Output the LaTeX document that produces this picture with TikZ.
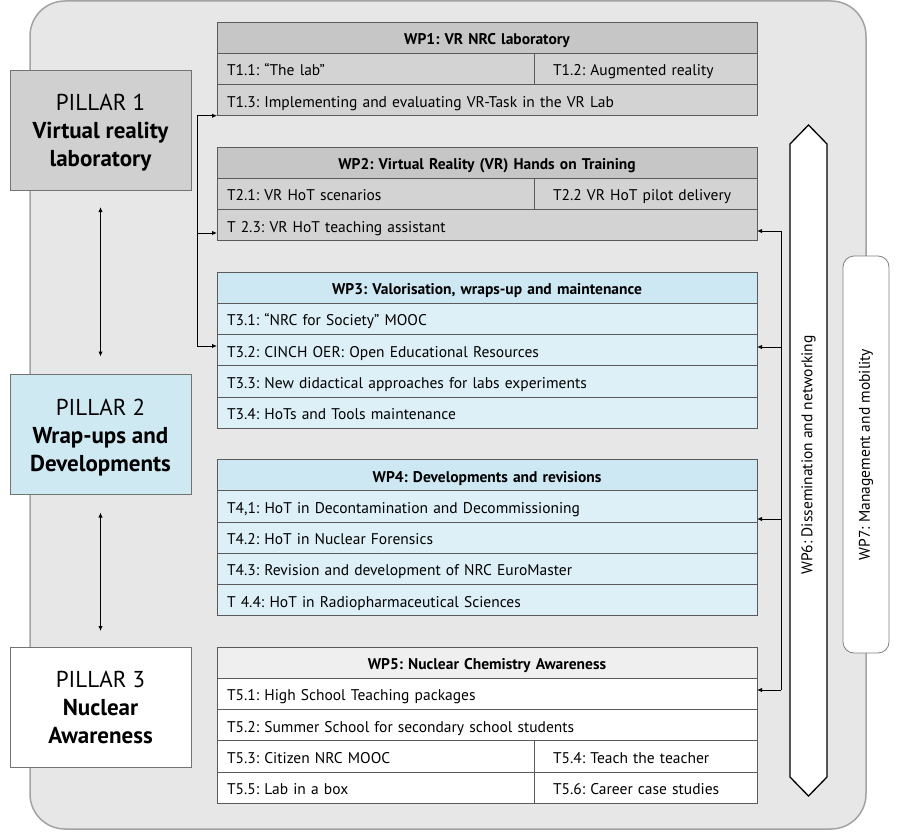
\documentclass[tikz,border=0pt]{standalone}
\usepackage{fontspec}
\setmainfont{PT Sans}
\usetikzlibrary{arrows.meta}
\frenchspacing
\definecolor{bgfill}{HTML}{E7E7E7}
\definecolor{bgdraw}{HTML}{A3A3A3}
\definecolor{bordercol}{HTML}{5A5A5A}
\definecolor{pillargray}{HTML}{D0D0D0}
\definecolor{pillarblue}{HTML}{CFE9F3}
\definecolor{headgray}{HTML}{C6C6C6}
\definecolor{rowgray}{HTML}{D3D3D3}
\definecolor{headblue}{HTML}{CDE8F2}
\definecolor{rowblue}{HTML}{DEF0F7}
\definecolor{headlight}{HTML}{EFEFEF}
\newcommand{\rowfont}{\fontsize{15.5pt}{18pt}\selectfont}
\newcommand{\headfont}{\fontsize{15.5pt}{18pt}\selectfont\bfseries}
\newcommand{\pillarfont}{\fontsize{23pt}{28pt}\selectfont}
\begin{document}
\begin{tikzpicture}[x=1pt,y=-1pt,
  every node/.style={outer sep=0pt},
  cell/.style={draw=bordercol, line width=0.8pt, anchor=north west, minimum height=31.25pt,
    inner xsep=10pt, inner ysep=0pt, align=left, font=\rowfont, text height=14pt, text depth=0pt},
  fullrow/.style={cell, text width=520pt},
  lhalf/.style={cell, text width=297pt},
  rhalf/.style={cell, inner xsep=19pt, text width=185pt},
  headrow/.style={cell, text width=520pt, align=center, font=\headfont},
  pillar/.style={draw=gray!90!black, line width=0.8pt, minimum width=181pt, minimum height=120pt,
    align=center, font=\pillarfont, inner sep=0pt, text height=73pt, text depth=0pt},
  conn/.style={line width=1pt, -{Latex[length=5pt,width=4.5pt]}},
  dconn/.style={line width=1pt, {Latex[length=5pt,width=4.5pt]}-{Latex[length=5pt,width=4.5pt]}}
]
\useasboundingbox (0,0) rectangle (900,832);
% background panel
\draw[fill=bgfill, draw=bgdraw, line width=1.5pt, rounded corners=35pt] (30,1) rectangle (866,829);

% pillars
\node[pillar, fill=pillargray] (p1) at (100.5,130) {PILLAR 1\\\textbf{Virtual reality}\\\textbf{laboratory}};
\node[pillar, fill=pillarblue] (p2) at (100.5,434.5) {PILLAR 2\\\textbf{Wrap-ups and}\\\textbf{Developments}};
\node[pillar, fill=white] (p3) at (100.5,707) {PILLAR 3\\\textbf{Nuclear}\\\textbf{Awareness}};
\draw[dconn] ([yshift=-17pt]p1.south) -- ([yshift=18pt]p2.north);
\draw[dconn] ([yshift=-18pt]p2.south) -- ([yshift=16pt]p3.north);

% WP1
\node[headrow, fill=headgray] (wp1h) at (217,22) {WP1: VR NRC laboratory};
\node[lhalf, fill=rowgray] (t11) at (217,53.25) {T1.1: “The lab”};
\node[rhalf, fill=rowgray] (t12) at (534,53.25) {T1.2: Augmented reality};
\node[fullrow, fill=rowgray] (t13) at (217,84.5) {T1.3: Implementing and evaluating VR-Task in the VR Lab};
% WP2
\node[headrow, fill=headgray] (wp2h) at (217,147) {WP2: Virtual Reality (VR) Hands on Training};
\node[lhalf, fill=rowgray] (t21) at (217,178.25) {T2.1: VR HoT scenarios};
\node[rhalf, fill=rowgray] (t22) at (534,178.25) {T2.2 VR HoT pilot delivery};
\node[fullrow, fill=rowgray] (t23) at (217,209.5) {T 2.3: VR HoT teaching assistant};
% WP3
\node[headrow, fill=headblue] (wp3h) at (217,272) {WP3: Valorisation, wraps-up and maintenance};
\node[fullrow, fill=rowblue] (t31) at (217,303.25) {T3.1: “NRC for Society” MOOC};
\node[fullrow, fill=rowblue] (t32) at (217,334.5) {T3.2: CINCH OER: Open Educational Resources};
\node[fullrow, fill=rowblue] (t33) at (217,365.75) {T3.3: New didactical approaches for labs experiments};
\node[fullrow, fill=rowblue] (t34) at (217,397) {T3.4: HoTs and Tools maintenance};
% WP4
\node[headrow, fill=headblue] (wp4h) at (217,459.5) {WP4: Developments and revisions};
\node[fullrow, fill=rowblue] (t41) at (217,490.75) {T4,1: HoT in Decontamination and Decommissioning};
\node[fullrow, fill=rowblue] (t42) at (217,522) {T4.2: HoT in Nuclear Forensics};
\node[fullrow, fill=rowblue] (t43) at (217,553.25) {T4.3: Revision and development of NRC EuroMaster};
\node[fullrow, fill=rowblue] (t44) at (217,584.5) {T 4.4: HoT in Radiopharmaceutical Sciences};
% WP5
\node[headrow, fill=headlight] (wp5h) at (217,647) {WP5: Nuclear Chemistry Awareness};
\node[fullrow, fill=white] (t51) at (217,678.25) {T5.1: High School Teaching packages};
\node[fullrow, fill=white] (t52) at (217,709.5) {T5.2: Summer School for secondary school students};
\node[lhalf, fill=white] (t53) at (217,740.75) {T5.3: Citizen NRC MOOC};
\node[rhalf, fill=white] (t54) at (534,740.75) {T5.4: Teach the teacher};
\node[lhalf, fill=white] (t55) at (217,772) {T5.5: Lab in a box};
\node[rhalf, fill=white] (t56) at (534,772) {T5.6: Career case studies};

% left connectors
\coordinate (la) at (197,115.75);
\coordinate (lb) at (197,233);
\coordinate (lc) at (197,346);
\draw[line width=1pt] (la) -- (lc);
\draw[conn] (la) -- (la -| t13.west);
\draw[conn] (lb) -- (lb -| t23.west);
\draw[conn] (lc) -- (lc -| t32.west);

% right connectors
\coordinate (ra) at (781,231);
\coordinate (rb) at (781,347);
\coordinate (rc) at (781,519);
\coordinate (rd) at (781,690);
\draw[line width=1pt] (ra) -- (rd);
\draw[conn] (ra) -- (ra -| t23.east);
\draw[conn] (rb) -- (rb -| t32.east);
\draw[conn] (rc) -- (rc -| t41.east);
\draw[conn] (rd) -- (rd -| t51.east);

% WP6 double arrow
\draw[fill=white, line width=1.3pt] (790,144) -- (808.5,125) -- (827,144) -- (827,777) -- (808.5,796) -- (790,777) -- cycle;
\node[rotate=90, font=\rowfont] (wp6) at (808.5,455) {WP6: Dissemination and networking};

% WP7
\node[rotate=90, draw=gray, fill=white, line width=0.8pt, rounded corners=11pt, minimum width=397pt, minimum height=46pt, font=\rowfont] (wp7) at (866,454.5) {WP7: Management and mobility};
\end{tikzpicture}
\end{document}
